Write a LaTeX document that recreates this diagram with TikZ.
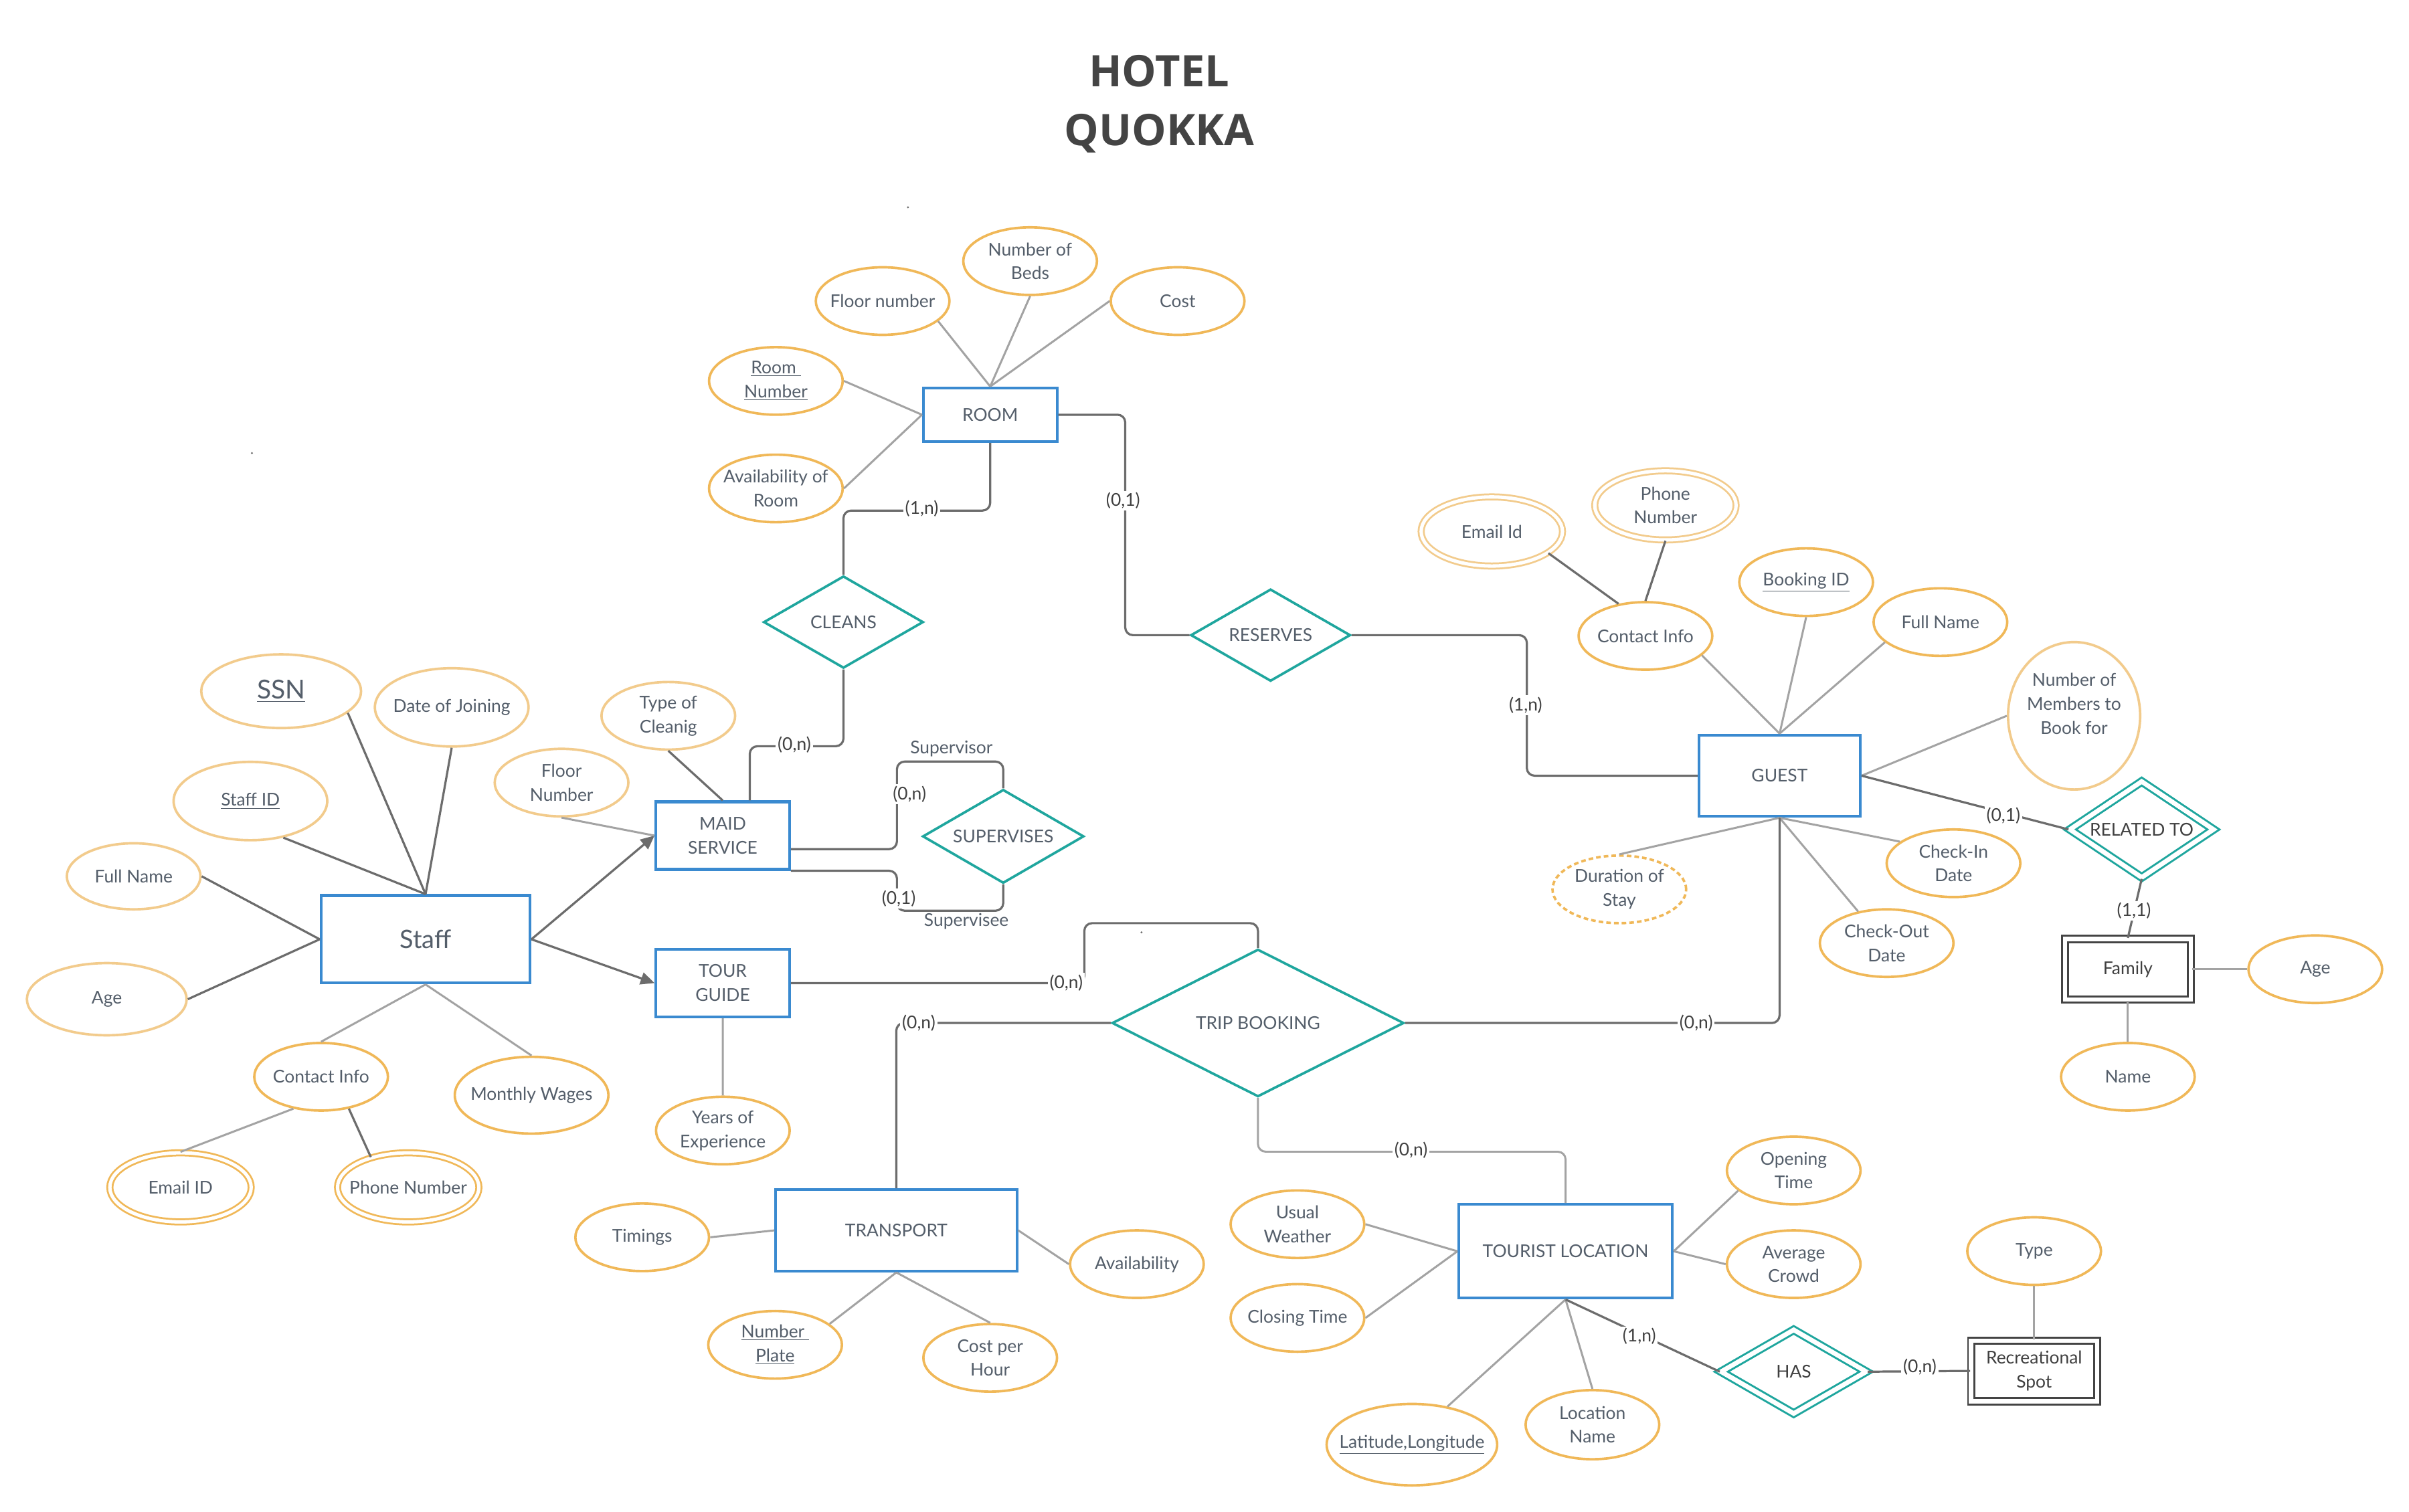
\documentclass[tikz,border=0pt]{standalone}
\usepackage{fontspec}
\setmainfont{Lato}
\newfontfamily\titlefont{Open Sans}
\usetikzlibrary{shapes.geometric,arrows.meta,calc}

\definecolor{entblue}{RGB}{58,138,208}
\definecolor{attror}{RGB}{240,184,88}
\definecolor{attrpale}{RGB}{242,203,140}
\definecolor{relteal}{RGB}{31,166,158}
\definecolor{txt}{RGB}{84,94,106}
\definecolor{lbltxt}{RGB}{64,64,64}
\definecolor{dkline}{RGB}{108,108,108}
\definecolor{ltline}{RGB}{163,163,163}
\definecolor{weakc}{RGB}{68,68,68}
\definecolor{titlec}{RGB}{68,68,68}

\begin{document}
\begin{tikzpicture}[x=1pt,y=-1pt,
  every node/.style={font=\fontsize{11.5}{15.6}\selectfont, text=txt, align=center},
  entity/.style={rectangle, draw=entblue, line width=1.8pt, inner sep=0pt, minimum width=87pt, minimum height=44pt},
  weakent/.style={rectangle, draw=weakc, line width=1.3pt, double=white, double distance=2.8pt, inner sep=0pt, minimum width=82pt, minimum height=39.5pt, text=lbltxt},
  attr/.style={ellipse, draw=attror, line width=1.6pt, inner xsep=-22pt, inner ysep=-8pt, minimum width=87pt, minimum height=44pt},
  pattr/.style={attr, draw=attrpale},
  dattr/.style={attr, line width=1.2pt, double=white, double distance=2.2pt, minimum width=92pt, minimum height=45pt},
  rel/.style={diamond, aspect=1.7, draw=relteal, line width=1.6pt, inner sep=0pt, minimum width=104pt, minimum height=60pt},
  drel/.style={rel, line width=1.3pt, double=white, double distance=3pt},
  dk/.style={draw=dkline, line width=1.4pt},
  lt/.style={draw=ltline, line width=1.3pt},
  ortho/.style={dk, rounded corners=5pt},
  arr/.style={dk, -{Triangle[length=9pt,width=8pt]}},
  lbl/.style={fill=white, inner sep=1.2pt, text=lbltxt},
  role/.style={inner sep=0pt, text=txt}
]
\useasboundingbox[fill=white] (0,0) rectangle (1568,984);

% title
\node[font=\titlefont\bfseries\fontsize{28.3}{38}\selectfont, text=titlec, anchor=base] (t1) at (754.5,56.6) {HOTEL};
\node[font=\titlefont\bfseries\fontsize{28.3}{38}\selectfont, text=titlec, anchor=base] (t2) at (754.5,94.6) {QUOKKA};

% stray dots
\fill[dkline] (591,135) circle (0.7pt);
\fill[dkline] (164,295) circle (0.7pt);
\fill[dkline] (743,607) circle (0.7pt);

% entities
\node[entity, minimum height=35pt] (room) at (644.5,270) {ROOM};
\node[entity, minimum width=105pt, minimum height=53pt] (guest) at (1158.3,505) {GUEST};
\node[entity, minimum width=136pt, minimum height=57pt, font=\fontsize{16.5}{20}\selectfont] (staff) at (277,611.5) {Staff};
\node[entity] (maid) at (470.4,544) {MAID\\SERVICE};
\node[entity] (tour) at (470.4,640) {TOUR\\GUIDE};
\node[entity, minimum width=157pt, minimum height=53pt] (transport) at (583.4,801) {TRANSPORT};
\node[entity, minimum width=139pt, minimum height=61pt] (tourist) at (1019,814.6) {TOURIST LOCATION};
\node[weakent] (family) at (1385,631) {Family};
\node[weakent] (recspot) at (1324,892.5) {Recreational\\Spot};

% relationships
\node[rel] (cleans) at (549,405) {CLEANS};
\node[rel] (reserves) at (827,413.5) {RESERVES};
\node[rel, minimum width=105pt, minimum height=61pt] (supervises) at (653,544.5) {SUPERVISES};
\node[rel, minimum width=190pt, minimum height=96pt] (trip) at (818.8,666) {TRIP BOOKING};
\node[drel, minimum width=94pt, minimum height=63pt, text=lbltxt] (related) at (1394,540) {RELATED TO};
\node[drel, minimum width=95pt, minimum height=55pt, text=lbltxt] (has) at (1167.5,893) {HAS};

% room attributes
\node[attr] (floorno) at (574.5,196) {Floor number};
\node[attr] (beds) at (670.5,170) {Number of\\Beds};
\node[attr] (cost) at (766.5,196) {Cost};
\node[attr] (roomno) at (505,248) {\underline{Room\ }\\\underline{Number}};
\node[attr] (avail) at (505,318) {Availability of\\Room};

% staff attributes
\node[pattr, minimum width=104pt, minimum height=48pt, font=\fontsize{17}{20}\selectfont] (ssn) at (183,450) {\underline{SSN}};
\node[pattr, minimum width=100pt, minimum height=51pt] (doj) at (294,460.5) {Date of Joining};
\node[pattr, minimum width=100pt, minimum height=51pt] (staffid) at (163,521.5) {\underline{Staff ID}};
\node[pattr, minimum height=43pt] (sfull) at (87,570.5) {Full Name};
\node[pattr, minimum width=104pt, minimum height=47pt] (sage) at (69.5,650.5) {Age};
\node[attr] (scontact) at (209,701) {Contact Info};
\node[attr, minimum width=100pt, minimum height=50pt] (wages) at (346,713) {Monthly Wages};
\node[dattr] (semail) at (117.5,773) {Email ID};
\node[dattr] (sphone) at (265.7,773) {Phone Number};

% maid / tour attributes
\node[pattr] (cleantype) at (435,466) {Type of\\Cleanig};
\node[pattr] (mfloor) at (365.5,509.5) {Floor\\Number};
\node[attr] (years) at (470.5,736) {Years of\\Experience};

% guest attributes
\node[attr] (gcontact) at (1071,414) {Contact Info};
\node[dattr, draw=attrpale] (gemail) at (971,346) {Email Id};
\node[dattr, draw=attrpale] (gphone) at (1084,329) {Phone\\Number};
\node[attr] (booking) at (1175.6,379) {\underline{Booking ID}};
\node[attr] (gfull) at (1263,405) {Full Name};
\node[pattr, minimum width=86pt, minimum height=96pt] (members) at (1350,466) {Number of\\Members to\\Book for\\\mbox{}};
\node[attr, dashed, dash pattern=on 3pt off 2pt] (duration) at (1054,579) {Duration of\\Stay};
\node[attr] (checkin) at (1271.5,562) {Check-In\\Date};
\node[attr] (checkout) at (1228,614) {Check-Out\\Date};

% family attributes
\node[attr] (fage) at (1507,631) {Age};
\node[attr] (fname) at (1385,701) {Name};

% transport attributes
\node[attr] (timings) at (418,805.5) {Timings};
\node[attr] (availability) at (740,823) {Availability};
\node[attr] (plate) at (504.5,875.5) {\underline{Number\ }\\\underline{Plate}};
\node[attr] (cph) at (644.5,884) {Cost per\\Hour};

% tourist location attributes
\node[attr] (weather) at (844.5,797) {Usual\\Weather};
\node[attr] (closing) at (844.5,858) {Closing Time};
\node[attr] (opening) at (1167.5,762) {Opening\\Time};
\node[attr] (crowd) at (1167.5,823) {Average\\Crowd};
\node[attr, minimum width=111pt, minimum height=53pt] (latlong) at (919,940.5) {\underline{Latitude,Longitude}};
\node[attr, minimum height=45pt] (locname) at (1036.5,927.5) {Location\\Name};
\node[attr] (rtype) at (1324,814.5) {Type};

% ---- connectors: room
\draw[lt] (floorno.-20) -- (room.north);
\draw[lt] (beds.south) -- (room.north);
\draw[lt] (cost.west) -- (room.north);
\draw[lt] (roomno.east) -- (room.west);
\draw[lt] (avail.east) -- (room.west);
\draw[ortho] (room.south) -- ++(0,44) -| (cleans.north);
\draw[ortho] (room.east) -- ++(43.5,0) |- (reserves.west);
\draw[ortho] (reserves.east) -- ++(114,0) |- (guest.west);
\draw[ortho] (cleans.south) -- ++(0,50) -| ([xshift=17.6pt]maid.north);

% staff
\draw[dk] (ssn.-18) -- (staff.north);
\draw[dk] (doj.south) -- (staff.north);
\draw[dk] (staffid.-48) -- (staff.north);
\draw[dk] (sfull.east) -- (staff.west);
\draw[dk] (sage.east) -- (staff.west);
\draw[lt] (staff.south) -- (scontact.north);
\draw[lt] (staff.south) -- (wages.north);
\draw[lt] (scontact.-131) -- (semail.north);
\draw[dk] (scontact.-49) -- (sphone.141);
\draw[arr] (staff.east) -- (maid.west);
\draw[arr] (staff.east) -- (tour.west);
\draw[dk] (cleantype.south) -- (maid.north);
\draw[lt] (mfloor.south) -- (maid.west);
\draw[lt] (tour.south) -- (years.north);

% supervises
\draw[ortho] ([yshift=-8.8pt]maid.east) -- ++(69,0) -- ++(0,-57) -| (supervises.north);
\draw[ortho] (maid.south east) -- ++(69,0) -- ++(0,26) -| (supervises.south);

% guest
\draw[lt] (gcontact.-19) -- (guest.north);
\draw[lt] (booking.south) -- (guest.north);
\draw[lt] (gfull.-160) -- (guest.north);
\draw[lt] (members.west) -- (guest.east);
\draw[dk] (guest.east) -- (related.west);
\draw[lt] (duration.north) -- (guest.south);
\draw[lt] (checkin.158) -- (guest.south);
\draw[lt] (checkout.132) -- (guest.south);
\draw[dk] (gcontact.130) -- (gemail.-21);
\draw[dk] (gcontact.north) -- (gphone.south);
\draw[dk] (related.south) -- (family.north);
\draw[lt] (family.east) -- (fage.west);
\draw[lt] (family.south) -- (fname.north);

% trip booking
\draw[ortho] (tour.east) -- ++(191,0) -- ++(0,-39) -| (trip.north);
\draw[ortho] (trip.west) -| (transport.north);
\draw[ortho] (trip.east) -| (guest.south);
\draw[lt, rounded corners=5pt] (trip.south) -- ++(0,35) -| (tourist.north);

% transport
\draw[lt] (timings.east) -- (transport.west);
\draw[lt] (transport.east) -- (availability.west);
\draw[lt] (transport.south) -- (plate.21);
\draw[lt] (transport.south) -- (cph.north);

% tourist location
\draw[lt] (weather.east) -- (tourist.west);
\draw[lt] (closing.east) -- (tourist.west);
\draw[lt] (tourist.east) -- (opening.-160);
\draw[lt] (tourist.east) -- (crowd.west);
\draw[lt] (tourist.south) -- (latlong.47);
\draw[lt] (tourist.south) -- (locname.north);
\draw[dk] (tourist.south) -- (has.west);
\draw[dk] (has.east) -- (recspot.west);
\draw[lt] (rtype.south) -- (recspot.north);

% cardinality labels
\node[lbl] (l1) at (600,331) {(1,n)};
\node[lbl] (l2) at (731,326) {(0,1)};
\node[lbl] (l3) at (993,459) {(1,n)};
\node[lbl] (l4) at (517,485) {(0,n)};
\node[lbl] (l5) at (592,517) {(0,n)};
\node[lbl] (l6) at (585,585) {(0,1)};
\node[lbl] (l7) at (694,640) {(0,n)};
\node[lbl] (l8) at (598,666) {(0,n)};
\node[lbl] (l9) at (1104,666) {(0,n)};
\node[lbl] (l10) at (918.4,749) {(0,n)};
\node[lbl] (l11) at (1304,531) {(0,1)};
\node[lbl] (l12) at (1389,593) {(1,1)};
\node[lbl] (l13) at (1067,870) {(1,n)};
\node[lbl] (l14) at (1249.6,890) {(0,n)};
\node[role] (r1) at (619.3,487.5) {Supervisor};
\node[role] (r2) at (629,600) {Supervisee};
\end{tikzpicture}
\end{document}
